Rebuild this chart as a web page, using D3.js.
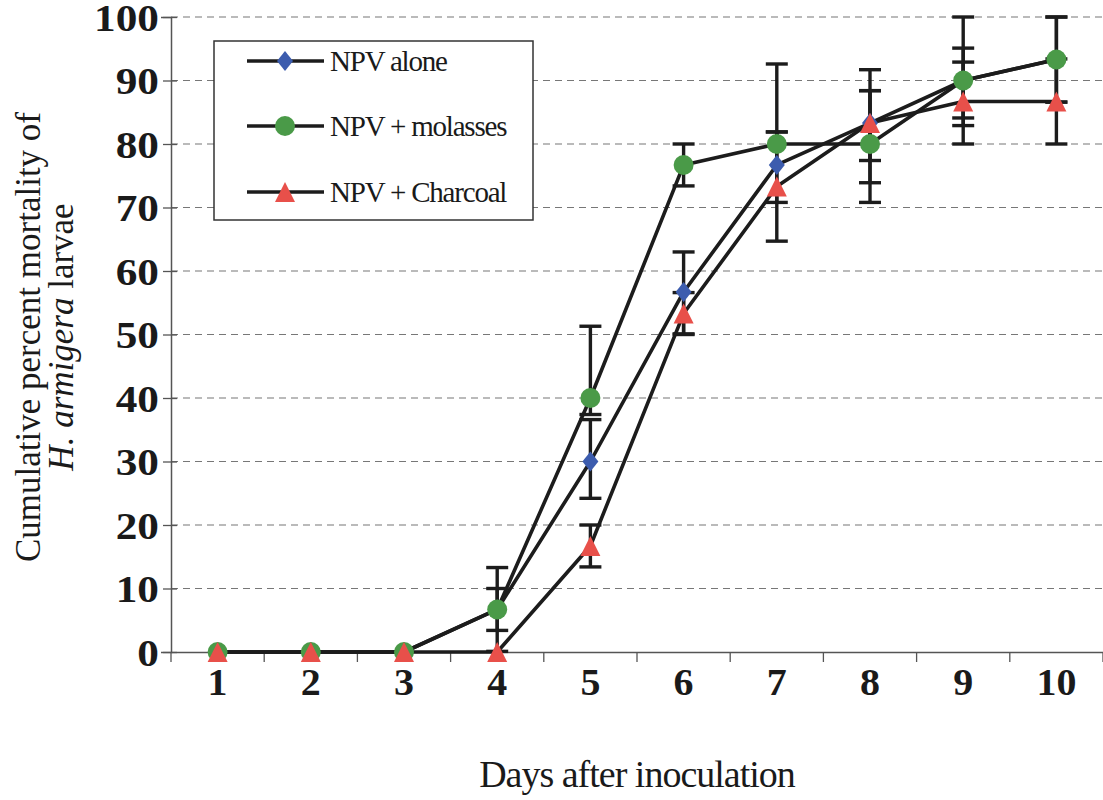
<!DOCTYPE html>
<html><head><meta charset="utf-8">
<script src="https://cdn.jsdelivr.net/npm/d3@7"></script>
<style>
html,body{margin:0;padding:0;background:#fff;}
svg{display:block;}
text{font-family:"Liberation Serif","Times New Roman",serif;fill:#1a1a1a;}
</style></head>
<body>
<svg id="c" width="1103" height="800"></svg>
<script>
const days = [1,2,3,4,5,6,7,8,9,10];
const yTicks = [0,10,20,30,40,50,60,70,80,90,100];
const seriesNames = ["NPV alone","NPV + molasses","NPV + Charcoal"];

const npvAlone     = [0,0,0,6.7,30,56.7,76.7,83.3,90,93.3];
const npvMolasses  = [0,0,0,6.7,40,76.7,80,80,90,93.3];
const npvCharcoal  = [0,0,0,0,16.7,53.3,73.3,83.3,86.7,86.7];

const aloneErrPlus     = [0,0,0,3.3,6.6,6.3,5.2,8.4,5.1,6.7];
const aloneErrMinus    = [0,0,0,3.3,5.8,6.6,5.9,9.4,5.9,6.7];
const molassesErrPlus  = [0,0,0,6.6,11.3,3.3,12.6,8.4,10,6.7];
const molassesErrMinus = [0,0,0,6.6,2.6,3.3,0,9.2,10,6.7];
const charcoalErrPlus  = [0,0,0,0,3.3,3.3,8.6,5.1,6.2,6.7];
const charcoalErrMinus = [0,0,0,0,3.3,3.3,8.6,5.9,3.8,6.7];

const colors = ["#3c5cae","#4a9a48","#e8504a"];

// custom marker shapes (size-independent drawing)
const diamond = { draw(ctx){ ctx.moveTo(0,-10); ctx.lineTo(8,0); ctx.lineTo(0,10); ctx.lineTo(-8,0); ctx.closePath(); } };
const triangle = { draw(ctx){ ctx.moveTo(0,-10); ctx.lineTo(10,10); ctx.lineTo(-10,10); ctx.closePath(); } };
const shapes = [diamond, d3.symbolCircle, triangle];
const shapeSize = [64, 314, 64];

const series = [
  {name:seriesNames[0], values:npvAlone, up:aloneErrPlus, dn:aloneErrMinus},
  {name:seriesNames[1], values:npvMolasses, up:molassesErrPlus, dn:molassesErrMinus},
  {name:seriesNames[2], values:npvCharcoal, up:charcoalErrPlus, dn:charcoalErrMinus}
];

const svg = d3.select("#c");
const mLeft = 171, mRight = 1103, mTop = 17, mBottom = 652;

const x = d3.scaleBand().domain(days).range([mLeft, mRight]).padding(0);
const y = d3.scaleLinear().domain([0,100]).range([mBottom, mTop]);
const cx = d => x(d) + x.bandwidth()/2;

function stretch(sel, f){
  sel.each(function(){ const L = this.getComputedTextLength(); d3.select(this).attr("textLength", L*f).attr("lengthAdjust","spacingAndGlyphs"); });
}

// gridlines
svg.append("g").selectAll("line").data(yTicks.filter(t=>t>0)).join("line")
  .attr("x1", mLeft).attr("x2", mRight)
  .attr("y1", d=>y(d)).attr("y2", d=>y(d))
  .attr("stroke","#777").attr("stroke-width",1.2).attr("stroke-dasharray","7,5");

// y axis
const yAxis = d3.axisLeft(y).tickValues(yTicks).tickSize(10).tickPadding(10);
const gy = svg.append("g").attr("transform",`translate(${mLeft},0)`).call(yAxis);
gy.select(".domain").attr("stroke","#555").attr("stroke-width",1.5);
gy.selectAll(".tick line").attr("stroke","#555").attr("stroke-width",1.3).attr("x2",6).attr("x1",-8);
const ytx = gy.selectAll(".tick text").attr("font-size",37).attr("font-weight","bold")
  .attr("font-family","Liberation Serif, serif").attr("fill","#1a1a1a").attr("x",-12).attr("dy","0.36em");
stretch(ytx, 1.17);

// x axis
const xAxis = d3.axisBottom(x).tickSize(0).tickPadding(40);
const gx = svg.append("g").attr("transform",`translate(0,${mBottom})`).call(xAxis);
gx.select(".domain").attr("stroke","#555").attr("stroke-width",1.5);
const xtx = gx.selectAll(".tick text").attr("font-size",37).attr("font-weight","bold")
  .attr("font-family","Liberation Serif, serif").attr("fill","#1a1a1a").attr("y",43).attr("dy","0");
stretch(xtx, 1.08);
// boundary ticks
const bounds = days.map(d=>x(d)).concat([x(days[days.length-1])+x.bandwidth()]);
svg.append("g").selectAll("line").data(bounds).join("line")
  .attr("x1",d=>d).attr("x2",d=>d).attr("y1",mBottom).attr("y2",mBottom+10)
  .attr("stroke","#555").attr("stroke-width",1.3);

// lines
const line = d3.line().x((v,i)=>cx(days[i])).y(v=>y(v));
series.forEach(s=>{
  svg.append("path").datum(s.values).attr("d",line)
    .attr("fill","none").attr("stroke","#1c1c1c").attr("stroke-width",3.6).attr("stroke-linejoin","round");
});

// error bars
series.forEach(s=>{
  const g = svg.append("g").attr("stroke","#1c1c1c").attr("stroke-width",3.4);
  days.forEach((d,i)=>{
    const v = s.values[i], u = s.up[i], dn = s.dn[i];
    if (u>0){
      g.append("line").attr("x1",cx(d)).attr("x2",cx(d)).attr("y1",y(v)).attr("y2",y(v+u));
      g.append("line").attr("x1",cx(d)-11).attr("x2",cx(d)+11).attr("y1",y(v+u)).attr("y2",y(v+u));
    }
    if (dn>0){
      g.append("line").attr("x1",cx(d)).attr("x2",cx(d)).attr("y1",y(v)).attr("y2",y(v-dn));
      g.append("line").attr("x1",cx(d)-11).attr("x2",cx(d)+11).attr("y1",y(v-dn)).attr("y2",y(v-dn));
    }
  });
});

// markers
series.forEach((s,k)=>{
  svg.append("g").selectAll("path").data(s.values).join("path")
    .attr("d", d3.symbol().type(shapes[k]).size(shapeSize[k]))
    .attr("transform",(v,i)=>`translate(${cx(days[i])},${y(v)})`)
    .attr("fill",colors[k]);
});

// legend
const lg = svg.append("g");
lg.append("rect").attr("x",214).attr("y",41).attr("width",319).attr("height",179)
  .attr("fill","#fff").attr("stroke","#333").attr("stroke-width",1.5);
const rows = [61,126,192];
series.forEach((s,k)=>{
  lg.append("line").attr("x1",247).attr("x2",324).attr("y1",rows[k]).attr("y2",rows[k])
    .attr("stroke","#1c1c1c").attr("stroke-width",3.6);
  lg.append("path").attr("d", d3.symbol().type(shapes[k]).size(shapeSize[k]))
    .attr("transform",`translate(285,${rows[k]})`).attr("fill",colors[k]);
  lg.append("text").attr("x",330).attr("y",rows[k]).attr("dy","0.34em")
    .attr("font-size",29).attr("letter-spacing","-1.2").text(s.name);
});

// axis titles
svg.append("text").attr("x",637).attr("y",787).attr("text-anchor","middle")
  .attr("font-size",38).attr("letter-spacing","-1").text("Days after inoculation");
const yt = svg.append("text").attr("transform","translate(0,337) rotate(-90)").attr("text-anchor","middle")
  .attr("font-size",35);
yt.append("tspan").attr("x",0).attr("y",40).text("Cumulative percent mortality of");
const t2 = yt.append("tspan").attr("x",0).attr("y",73);
t2.append("tspan").attr("font-style","italic").text("H. armigera");
t2.append("tspan").text("  larvae");
</script>
</body></html>
